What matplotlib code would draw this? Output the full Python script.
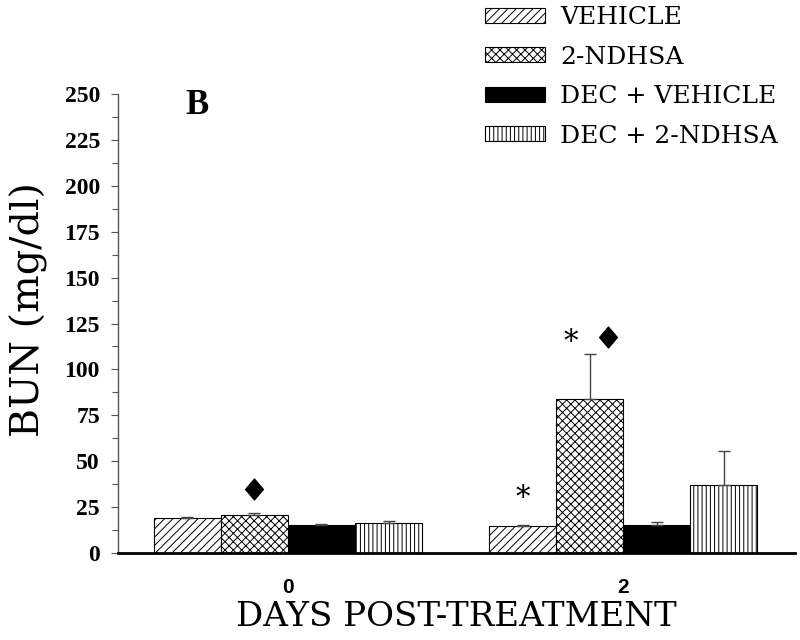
import numpy as np
import matplotlib.pyplot as plt
from matplotlib.path import Path

# данные (читаются с картинки)
days = ["0", "2"]
groups = ["VEHICLE", "2-NDHSA", "DEC + VEHICLE", "DEC + 2-NDHSA"]
bun_mean = {
    "VEHICLE": [19.2, 14.7],
    "2-NDHSA": [20.7, 83.9],
    "DEC + VEHICLE": [15.1, 15.2],
    "DEC + 2-NDHSA": [16.5, 36.9],
}
bun_err = {
    "VEHICLE": [0.6, 0.5],
    "2-NDHSA": [0.8, 24.6],
    "DEC + VEHICLE": [0.6, 1.7],
    "DEC + 2-NDHSA": [0.7, 18.5],
}
# значимость: (день, группа, знак, высота)
marks = [
    (0, "2-NDHSA", "diamond", 35),
    (1, "VEHICLE", "star", 30),
    (1, "2-NDHSA", "star", 115),
    (1, "2-NDHSA", "diamond", 117.5),
]

hatches = ["////", "xxxx", None, "||||"]
faces = ["white", "white", "black", "white"]

plt.rcParams['hatch.linewidth'] = 0.7
serif = ['DejaVu Serif']

fig = plt.figure(figsize=(8, 6.4), dpi=100)
ax = fig.add_axes([0.1475, 0.136, 0.8465, 0.717])

x = np.arange(len(days))
w = 0.2
offsets = (np.arange(len(groups)) - 1.5) * w
for i, g in enumerate(groups):
    xs = x + offsets[i]
    ax.bar(xs, bun_mean[g], width=w, color=faces[i], edgecolor='black',
           hatch=hatches[i], linewidth=0.8, label=g, zorder=2)
    ax.errorbar(xs, bun_mean[g], yerr=[np.zeros(len(days)), bun_err[g]],
                fmt='none', ecolor='#444444', elinewidth=1.0, capsize=4,
                capthick=1.0, zorder=3)

diamond = Path([(0, 1), (0.85, 0), (0, -1), (-0.85, 0), (0, 1)],
               [Path.MOVETO, Path.LINETO, Path.LINETO, Path.LINETO, Path.CLOSEPOLY])
for d, g, kind, yv in marks:
    xi = x[d] + offsets[groups.index(g)]
    if kind == "diamond":
        dx = 0.0 if d == 0 else 0.056
        ax.plot(xi + dx, yv, marker=diamond, ms=15, color='black',
                linestyle='none', zorder=4)
    else:
        dx = 0.0 if g == "VEHICLE" else -0.055
        ax.text(xi + dx, yv, "*", ha='center', va='center', fontsize=21,
                family=serif, zorder=4)

ax.text(-0.272, 244, "B", fontsize=25, fontweight='bold',
        family='Liberation Serif', ha='center', va='center')

ax.set_xlim(-0.507, 1.513)
ax.set_ylim(0, 250)
ax.set_yticks(np.arange(0, 251, 25))
ax.set_yticks(np.arange(12.5, 250, 25), minor=True)
ax.set_xticks(x)
ax.set_xticklabels(days, fontsize=15, fontweight='bold', family='Liberation Sans')
for lab in ax.get_yticklabels():
    lab.set_fontsize(17)
    lab.set_fontweight('bold')
    lab.set_family('Liberation Serif')
ax.tick_params(axis='x', length=0, pad=18)
ax.tick_params(axis='y', which='major', length=5, width=0.8, color='#555555',
               direction='out', pad=8)
ax.tick_params(axis='y', which='minor', length=4, width=0.8, color='#555555',
               direction='out')

for s in ['top', 'right']:
    ax.spines[s].set_visible(False)
ax.spines['left'].set_color('#555555')
ax.spines['left'].set_linewidth(1.0)
ax.spines['bottom'].set_linewidth(2.0)

ax.set_ylabel("BUN (mg/dl)", fontsize=28.5, family=serif)
ax.yaxis.set_label_coords(-0.104, 0.53)
ax.set_xlabel("DAYS POST-TREATMENT", fontsize=24.5, family=serif)
ax.xaxis.set_label_coords(0.5, -0.14)
ax.xaxis.label.set_va('center')

fig.legend(loc='upper left', bbox_to_anchor=(0.5875, 1.014), frameon=False,
           prop={'family': serif, 'size': 18}, handlelength=2.4,
           handleheight=0.56, handletextpad=0.6, labelspacing=0.66,
           borderpad=0.1)

plt.savefig("out.png", dpi=100)
